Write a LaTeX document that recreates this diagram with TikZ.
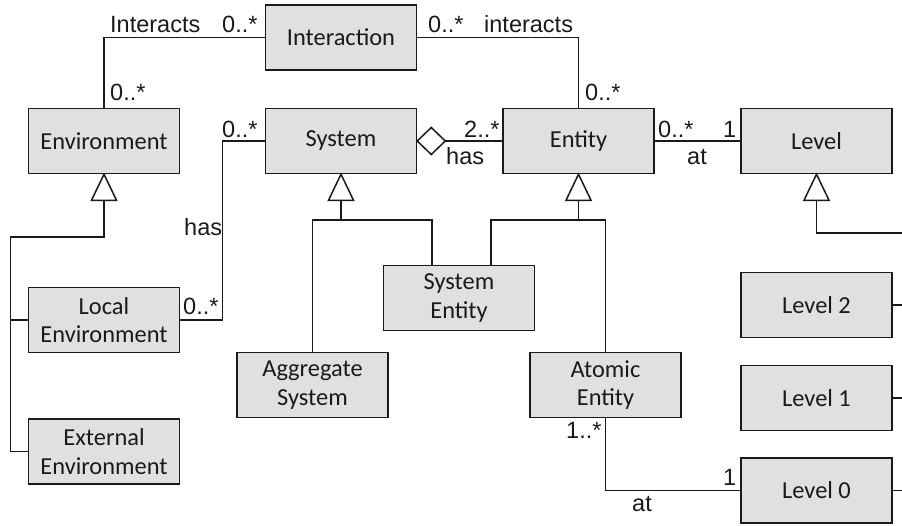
\documentclass[tikz,border=0pt]{standalone}
\usepackage{fontspec}
\setmainfont{Carlito}
\newfontfamily\lblfam{Liberation Sans}
\definecolor{boxgray}{HTML}{E0E0E0}
\definecolor{ink}{HTML}{1A1A1A}
\newcommand\boxfont{\fontsize{24.4}{28.5}\selectfont}
\newcommand\lblfont{\lblfam\fontsize{23.5}{28}\selectfont}
\tikzset{
  box/.style={draw=ink, line width=1.5pt, fill=boxgray, minimum width=151pt,
    minimum height=65pt, inner sep=0pt, align=center, font=\boxfont, text=ink},
  conn/.style={line width=1.5pt, draw=ink, line join=miter},
  lbl/.style={font=\lblfont, inner sep=0pt, anchor=base west, text=ink},
  gentri/.style={conn, fill=white},
}
\begin{document}
\begin{tikzpicture}[x=1pt, y=-1pt]
\useasboundingbox (0,0) rectangle (902,525);
% boxes
\node[box] (inter)   at (341,37.5)   {Interaction};
\node[box] (env)     at (104,141)    {Environment};
\node[box] (sys)     at (341,141)    {System};
\node[box] (ent)     at (578.5,141)  {Entity};
\node[box] (lev)     at (816.5,141)  {Level};
\node[box] (locenv)  at (104,320)    {Local\\Environment};
\node[box] (extenv)  at (104,451.5)  {External\\Environment};
\node[box] (aggsys)  at (312.5,385)  {Aggregate\\System};
\node[box] (sysent)  at (459,298)    {System\\Entity};
\node[box] (atoment) at (605.5,385)  {Atomic\\Entity};
\node[box] (lev2)    at (816.5,305)  {Level 2};
\node[box] (lev1)    at (816.5,398)  {Level 1};
\node[box] (lev0)    at (816.5,490.5){Level 0};
% associations
\draw[conn] (inter.west) -| (env.north);
\draw[conn] (inter.east) -| (ent.north);
\draw[conn, fill=white] (sys.east) -- ++(14,-13.5) -- ++(14,13.5) coordinate (dtip) -- ++(-14,13.5) -- cycle;
\draw[conn] (dtip) -- (ent.west);
\draw[conn] (ent.east) -- (lev.west);
\draw[conn] (sys.west) -- ++(-42.5,0) |- (locenv.east);
\draw[conn] (atoment.south) |- (lev0.west);
% generalization: Environment
\draw[gentri] (env.south) -- ++(-12.5,26) -- ++(25,0) -- cycle;
\coordinate (envJ) at (104,237);
\draw[conn] ([yshift=-26pt]env.south) -- (envJ) -| ([xshift=-17.5pt]extenv.west) -- (extenv.west);
\draw[conn] (locenv.west) -- ++(-17.5,0);
% generalization: System
\draw[gentri] (sys.south) -- ++(-12.5,26) -- ++(25,0) -- cycle;
\coordinate (sysJ) at (341,220);
\draw[conn] ([yshift=-26pt]sys.south) -- (sysJ);
\draw[conn] (aggsys.north) |- ([xshift=-27pt]sysent.north |- sysJ) -- ([xshift=-27pt]sysent.north);
% generalization: Entity
\draw[gentri] (ent.south) -- ++(-12.5,26) -- ++(25,0) -- cycle;
\coordinate (entJ) at (578.5,220);
\draw[conn] ([yshift=-26pt]ent.south) -- (entJ);
\draw[conn] ([xshift=32pt]sysent.north) |- (entJ) -| (atoment.north);
% generalization: Level (continues beyond the right edge)
\draw[gentri] (lev.south) -- ++(-12.5,26) -- ++(25,0) -- cycle;
\coordinate (levEdge) at (902,233);
\draw[conn] ([yshift=-26pt]lev.south) |- (levEdge);
\draw[conn] (lev2.east) -- ++(10,0);
\draw[conn] (lev1.east) -- ++(10,0);
\draw[conn] (lev0.east) -- ++(10,0);
% labels
\node[lbl] (l1)  at (110,32)  {Interacts};
\node[lbl] (l2)  at (222,32)  {0..*};
\node[lbl] (l3)  at (428,32)  {0..*};
\node[lbl] (l4)  at (484,32)  {interacts};
\node[lbl] (l5)  at (110,100) {0..*};
\node[lbl] (l6)  at (585,100) {0..*};
\node[lbl] (l7)  at (222,137) {0..*};
\node[lbl] (l8)  at (464,137) {2..*};
\node[lbl] (l9)  at (446,164) {has};
\node[lbl] (l10) at (658,137) {0..*};
\node[lbl] (l11) at (723,137) {1};
\node[lbl] (l12) at (687,164) {at};
\node[lbl] (l13) at (184,235) {has};
\node[lbl] (l14) at (183,314) {0..*};
\node[lbl] (l15) at (566,438) {1..*};
\node[lbl] (l16) at (632,511) {at};
\node[lbl] (l17) at (723,485) {1};
\end{tikzpicture}
\end{document}
